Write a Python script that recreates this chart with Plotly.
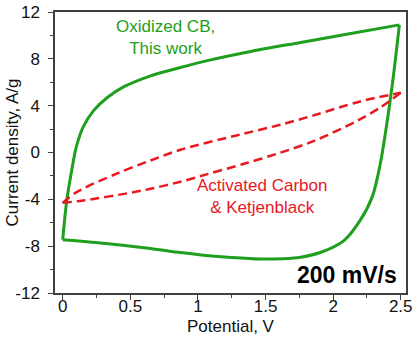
import plotly.graph_objects as go

# Oxidized CB (green) - forward (upper) and reverse (lower) branches
green_up_v = [0.0, 0.03, 0.067, 0.10, 0.15, 0.23, 0.33, 0.45, 0.65, 0.87, 1.07, 1.4, 1.76, 2.1, 2.49]
green_up_i = [-7.45, -4.1, -1.5, 0.45, 2.15, 3.6, 4.7, 5.6, 6.55, 7.26, 7.85, 8.65, 9.4, 10.1, 10.9]
green_dn_v = [2.49, 2.44, 2.39, 2.35, 2.29, 2.2, 2.08, 1.91, 1.76, 1.63, 1.46, 1.25, 1.04, 0.87, 0.65, 0.3, 0.0]
green_dn_i = [10.9, 6.0, 1.9, -0.9, -3.77, -5.8, -7.52, -8.52, -8.94, -9.07, -9.1, -8.97, -8.77, -8.55, -8.2, -7.75, -7.45]

# Activated Carbon & Ketjenblack (red dashed)
red_up_v = [0.0, 0.10, 0.40, 0.65, 0.87, 1.3, 1.61, 1.85, 2.2, 2.5]
red_up_i = [-4.3, -3.4, -1.8, -0.68, 0.23, 1.5, 2.37, 3.15, 4.36, 5.1]
red_dn_v = [2.5, 2.35, 2.17, 1.85, 1.6, 1.36, 1.07, 0.87, 0.65, 0.52, 0.15, 0.0]
red_dn_i = [5.1, 3.86, 2.66, 0.95, -0.05, -0.9, -1.85, -2.5, -3.1, -3.4, -4.1, -4.3]

x_ticks = [0, 0.5, 1, 1.5, 2, 2.5]
x_labels = ["0", "0.5", "1", "1.5", "2", "2.5"]
y_ticks = [-12, -8, -4, 0, 4, 8, 12]
y_labels = ["-12", "-8", "-4", "0", "4", "8", "12"]

GREEN = "#1ea01e"
RED = "#e8191f"
FONT = "Liberation Sans, Arial, sans-serif"

fig = go.Figure()
for xv, yv in [(green_up_v, green_up_i), (green_dn_v, green_dn_i)]:
    fig.add_trace(go.Scatter(x=xv, y=yv, mode="lines",
                             line=dict(color=GREEN, width=3, shape="spline", smoothing=0.9),
                             showlegend=False, hoverinfo="skip"))
for xv, yv in [(red_up_v, red_up_i), (red_dn_v, red_dn_i)]:
    fig.add_trace(go.Scatter(x=xv, y=yv, mode="lines",
                             line=dict(color=RED, width=2.5, dash="9px,5px", shape="spline", smoothing=0.9),
                             showlegend=False, hoverinfo="skip"))

axis_common = dict(showline=True, linecolor="#404040", linewidth=1.5, mirror=True,
                   ticks="outside", ticklen=5, tickwidth=1.2, tickcolor="#404040",
                   showgrid=False, zeroline=False, automargin=False,
                   tickfont=dict(family=FONT, size=17, color="#111"))

fig.update_xaxes(range=[-0.057, 2.539], tickvals=x_ticks, ticktext=x_labels,
                 minor=dict(dtick=0.25, ticks="outside", ticklen=3, tickcolor="#404040", tickwidth=1),
                 ticklabelstandoff=-8, **axis_common)
fig.update_yaxes(range=[-12, 12], tickvals=y_ticks, ticktext=y_labels,
                 minor=dict(dtick=2, ticks="outside", ticklen=3, tickcolor="#404040", tickwidth=1),
                 ticklabelstandoff=5, **axis_common)

# axis titles placed as annotations (paper coordinates, pixel shifts)
fig.add_annotation(x=0.5, y=0, xref="paper", yref="paper", text="Potential, V", showarrow=False,
                   font=dict(family=FONT, size=17, color="#111"), xanchor="center", yanchor="middle",
                   yshift=-33)
fig.add_annotation(x=0, y=0.5, xref="paper", yref="paper", text="Current density, A/g", showarrow=False,
                   textangle=-90, font=dict(family=FONT, size=17, color="#111"),
                   xanchor="center", yanchor="middle", xshift=-43)

fig.add_annotation(x=0.757, y=9.8, text="Oxidized CB,<br>This work", showarrow=False,
                   font=dict(family=FONT, size=17, color=GREEN), xanchor="center", yanchor="middle")
fig.add_annotation(x=1.474, y=-3.74, text="Activated Carbon<br>& Ketjenblack", showarrow=False,
                   font=dict(family=FONT, size=17, color=RED), xanchor="center", yanchor="middle")
fig.add_annotation(x=2.49, y=-10.45, text="<b>200 mV/s</b>", showarrow=False,
                   font=dict(family=FONT, size=23, color="#000"), xanchor="right", yanchor="middle")

fig.update_layout(width=418, height=338, margin=dict(l=55, r=12, t=12, b=45),
                  plot_bgcolor="white", paper_bgcolor="white")
fig.write_html("out.html")
